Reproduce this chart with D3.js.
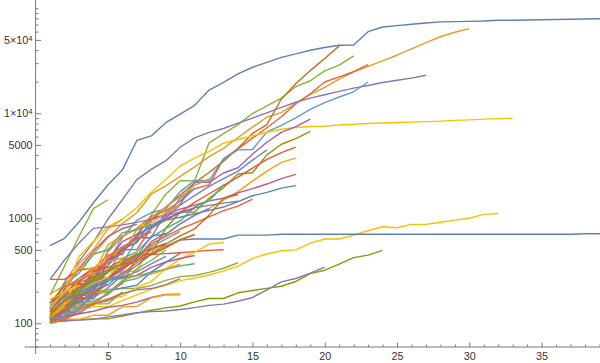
<!DOCTYPE html>
<html>
<head>
<meta charset="utf-8">
<script src="https://cdnjs.cloudflare.com/ajax/libs/d3/7.8.5/d3.min.js"></script>
<style>
  body { margin: 0; background: #fff; }
  svg { display: block; }
  text { font-family: "Liberation Sans", Arial, sans-serif; }
</style>
</head>
<body>
<script>
// confirmed cases, day 1 = first day with >= 100 cases
var china = [548, 643, 920, 1406, 2075, 2877, 5509, 6087, 8141, 9802, 11891, 16630, 19716, 23707, 27440, 30587, 34110, 36814, 39829, 42354, 44386, 44759, 59895, 66358, 68413, 70513, 72434, 74211, 74619, 75077, 75550, 77001, 77022, 77241, 77754, 78166, 78600, 78928, 79356, 79932];
var italy = [155, 229, 322, 453, 655, 888, 1128, 1694, 2036, 2502, 3089, 3858, 4636, 5883, 7375, 9172, 10149, 12462, 15113, 17660, 21157, 24747, 27980, 31506, 35713, 41035, 47021, 53578, 59138, 63927];
var spain = [120, 165, 222, 259, 400, 500, 673, 1073, 1695, 2277, 2277, 5232, 6391, 7798, 9942, 11748, 13910, 17963, 20410, 25374, 28768, 35136];
var germany = [130, 159, 196, 262, 482, 670, 799, 1040, 1176, 1457, 1908, 2078, 3675, 4585, 5795, 7272, 9257, 12327, 15320, 19848, 22213, 24873, 29056];
var iran = [139, 245, 388, 593, 978, 1501, 2336, 2922, 3513, 4747, 5823, 6566, 7161, 8042, 9000, 10075, 11364, 12729, 13938, 14991, 16169, 17361, 18407, 19644, 20610, 21638, 23049];
var us = [118, 149, 217, 262, 402, 518, 583, 959, 1281, 1663, 2179, 2727, 3499, 4632, 6421, 7786, 13680, 19101, 25493, 33276, 43847];
var france = [130, 191, 204, 288, 380, 656, 957, 1134, 1217, 1792, 2290, 2290, 3672, 4480, 4513, 6650, 7652, 9043, 10871, 12612, 14282, 16018, 19856];
var korea = [104, 204, 433, 602, 833, 977, 1261, 1766, 2337, 3150, 3736, 4335, 5186, 5621, 6088, 6593, 7041, 7314, 7478, 7513, 7755, 7869, 7979, 8086, 8162, 8236, 8320, 8413, 8565, 8652, 8799, 8897, 8961];
var switzerland = [114, 214, 268, 337, 374, 491, 652, 652, 1139, 1359, 2200, 2200, 2700, 3028, 4075, 5294, 6575, 7474, 8795];
var uk = [116, 164, 207, 274, 322, 384, 459, 459, 802, 1144, 1145, 1551, 1960, 2642, 2716, 4014, 5067, 5741, 6726];
var netherlands = [128, 188, 265, 321, 382, 503, 503, 806, 962, 1138, 1416, 1711, 2058, 2467, 3003, 3640, 4217, 4764];
var austria = [104, 131, 182, 246, 302, 504, 655, 860, 1018, 1332, 1646, 2013, 2388, 2814, 3582, 4474];
var belgium = [109, 169, 200, 239, 267, 314, 314, 559, 689, 886, 1058, 1243, 1486, 1795, 2257, 2815, 3401, 3743];
var norway = [108, 147, 176, 205, 400, 598, 702, 996, 1090, 1221, 1333, 1463, 1550, 1746, 1914, 2118, 2385, 2621];
var canada = [108, 117, 193, 198, 252, 415, 478, 657, 800, 943, 1277, 1469, 2088];
var sweden = [101, 161, 203, 248, 355, 500, 599, 814, 961, 1022, 1103, 1190, 1279, 1439, 1639, 1763, 1934, 2046];
var portugal = [112, 169, 245, 331, 448, 448, 785, 1020, 1280, 1600, 2060, 2362];
var turkey = [185, 350, 670, 1236, 1500];
var malaysia = [117, 129, 149, 149, 197, 238, 428, 566, 673, 790, 900, 1030, 1183, 1306, 1518];
var denmark = [262, 400, 580, 801, 827, 864, 914, 977, 1057, 1151, 1255, 1326, 1395, 1450];
var australia = [107, 128, 128, 200, 250, 297, 377, 452, 568, 681, 791, 1071, 1549, 1682];
var brazil = [151, 151, 162, 200, 321, 372, 621, 793, 1021, 1546, 1924];
var japan = [105, 105, 132, 144, 144, 164, 186, 210, 230, 255, 270, 288, 315, 350, 415, 457, 490, 500, 580, 635, 635, 693, 760, 830, 813, 875, 875, 915, 960, 1000, 1090, 1110];
var czechia = [141, 189, 253, 298, 396, 464, 694, 833, 995, 1120, 1236];
var singapore = [102, 106, 108, 110, 110, 117, 125, 133, 140, 146, 160, 172, 172, 195, 205, 215, 225, 250, 297, 320, 365, 422, 445, 495];
var qatar = [262, 262, 320, 337, 337, 401, 439, 452, 460, 470, 481, 494, 501];
var israel = [131, 143, 193, 251, 255, 337, 433, 677, 705, 883, 1071, 1238];
var ireland = [129, 169, 223, 292, 557, 683, 785, 906, 1125, 1329];
var luxembourg = [140, 203, 335, 484, 670, 798, 875];
var pakistan = [136, 236, 299, 454, 501, 730, 776, 875];
var cruiseShip = [135, 135, 175, 175, 218, 285, 355, 454, 542, 621, 634, 634, 634, 691, 691, 691, 705, 705, 705, 705, 705, 705, 705, 705, 705, 705, 705, 705, 705, 705, 705, 705, 705, 705, 705, 705, 705, 712, 712, 712];
var greece = [190, 228, 331, 331, 387, 418, 418, 495, 530, 624, 695];
var bahrain = [110, 195, 195, 195, 210, 214, 214, 228, 256, 278, 285, 305, 334, 377];
var chile = [156, 201, 238, 238, 434, 537, 632, 746];
var hongKong = [105, 105, 107, 109, 115, 120, 126, 129, 131, 135, 141, 148, 152, 162, 176, 208, 248, 267, 300, 343];
var finland = [155, 225, 244, 277, 321, 336, 400, 450, 523, 626, 700];
var poland = [103, 119, 177, 238, 251, 355, 425, 536, 634, 749];
var iceland = [103, 134, 156, 156, 171, 180, 220, 250, 330, 409, 473, 568, 588];
var thailand = [114, 147, 177, 212, 272, 322, 411, 599, 721];
var indonesia = [117, 134, 172, 227, 311, 369, 450, 514, 579];
var saudiArabia = [103, 118, 171, 171, 274, 344, 392, 511, 562];
var romania = [123, 131, 158, 184, 260, 277, 308, 367, 433];
var ecuador = [168, 199, 367, 506, 789, 981];
var slovenia = [141, 181, 219, 253, 275, 275, 286, 341, 383, 414, 442];
var estonia = [115, 171, 205, 225, 258, 267, 283, 306, 326, 352, 369];
var philippines = [111, 140, 142, 187, 202, 217, 230, 307, 380, 462];
var egypt = [110, 110, 150, 196, 196, 256, 285, 294, 327, 366];
var india = [113, 119, 142, 156, 194, 244, 330, 396, 499];
var russia = [114, 147, 199, 253, 306, 367, 438];
var iraq = [110, 116, 124, 154, 164, 192, 208, 214, 233, 266];
var peru = [117, 145, 234, 234, 318, 363, 395];
var lebanon = [120, 133, 157, 163, 187, 248, 267, 304];
var southAfrica = [116, 150, 202, 240, 274, 402];
var kuwait = [104, 112, 123, 130, 142, 148, 159, 176, 188, 189];
var mexico = [118, 164, 203, 251, 316, 367];
var panama = [109, 137, 200, 313, 345];
var colombia = [102, 128, 196, 231, 231, 306];
var sanMarino = [101, 109, 109, 119, 119, 144, 144, 175, 187, 187];
var armenia = [115, 136, 160, 194, 235];
var croatia = [105, 128, 206, 254, 315];
var serbia = [103, 135, 171, 222, 249];
var argentina = [128, 158, 266, 301];
var uae = [113, 140, 140, 153, 153, 198];
var taiwan = [100, 108, 135, 153, 169, 195];
var slovakia = [137, 178, 185, 186];
var bulgaria = [127, 163, 187, 201];
var latvia = [111, 124, 139, 180];
var algeria = [139, 201, 230];
var uruguay = [110, 135, 162];
var hungary = [103, 131, 167];
var jordan = [112, 127];
var costaRica = [113, 117, 134];
var morocco = [115, 143];

// drawing order (also decides the colour, palette cycles)
var series = [china, italy, spain, germany, iran, us, france, korea, switzerland, uk,
  netherlands, austria, belgium, norway, canada, sweden, portugal, turkey, malaysia, denmark,
  australia, brazil, japan, czechia, singapore, qatar, israel, ireland, luxembourg, pakistan,
  cruiseShip, greece, bahrain, chile, hongKong, finland, poland, iceland, thailand, indonesia,
  saudiArabia, romania, ecuador, slovenia, estonia, philippines, egypt, india, russia, iraq,
  peru, lebanon, southAfrica, kuwait, mexico, panama, colombia, sanMarino, armenia, croatia,
  serbia, argentina, uae, taiwan, slovakia, bulgaria, latvia, algeria, uruguay, hungary,
  jordan, costaRica, morocco];

var xTicks = [5, 10, 15, 20, 25, 30, 35];
var xMinorTicks = [1, 2, 3, 4, 6, 7, 8, 9, 11, 12, 13, 14, 16, 17, 18, 19, 21, 22, 23, 24, 26, 27, 28, 29, 31, 32, 33, 34, 36, 37, 38, 39];
var yTicks = [100, 500, 1000, 5000, 10000, 50000];
var yTickLabels = ["100", "500", "1000", "5000", "1×10^4", "5×10^4"];
var yMinorTicks = [60, 70, 80, 90, 200, 300, 400, 600, 700, 800, 900, 2000, 3000, 4000, 6000, 7000, 8000, 9000,
  20000, 30000, 40000, 60000, 70000, 80000, 90000, 100000];

//mathematica default colours
var palette = ["#5E81B5", "#E19C24", "#8FB032", "#EB6235", "#8778B3", "#C56E1A", "#5D9EC7", "#FFBF00",
  "#A5609D", "#929600", "#E95536", "#6685D9", "#F89F13", "#BC5B80", "#47B66D"];

var width = 600, height = 363;

var x = d3.scaleLinear().domain([0, 39.04]).range([35.6, 600]);
var y = d3.scaleLog().domain([59.4, 119900]).range([347, 0]);

var svg = d3.select("body").append("svg")
  .attr("width", width)
  .attr("height", height);

var line = d3.line()
  .x(function(d, i) { return x(i + 1); })
  .y(function(d) { return y(d); });

svg.append("g")
  .selectAll("path")
  .data(series)
  .enter()
  .append("path")
  .attr("d", line)
  .attr("fill", "none")
  .attr("stroke", function(d, i) { return palette[i % palette.length]; })
  .attr("stroke-width", 1.4)
  .attr("stroke-linejoin", "round");

var axisColor = "#7a7a7a";
var x0 = x(0), yBottom = y.range()[0];

// axes lines, mathematica style with a little overhang
svg.append("line")
  .attr("x1", x0 - 11).attr("x2", width)
  .attr("y1", yBottom).attr("y2", yBottom)
  .attr("stroke", axisColor);
svg.append("line")
  .attr("x1", x0).attr("x2", x0)
  .attr("y1", 0).attr("y2", yBottom + 7)
  .attr("stroke", axisColor);

function styleAxis(g) {
  g.select(".domain").remove();
  g.selectAll(".tick line").attr("stroke", axisColor);
  g.selectAll(".tick text").attr("fill", "#333").attr("font-size", "10.8px")
    .attr("font-family", "'Liberation Sans', Arial, sans-serif");
}

// x ticks point up into the plot
svg.append("g")
  .attr("transform", "translate(0," + yBottom + ")")
  .call(d3.axisBottom(x).tickValues(xTicks).tickSizeInner(-4.5).tickSizeOuter(0).tickPadding(5).tickFormat(d3.format("d")))
  .call(styleAxis);
svg.append("g")
  .attr("transform", "translate(0," + yBottom + ")")
  .call(d3.axisBottom(x).tickValues(xMinorTicks).tickSizeInner(-2.5).tickSizeOuter(0).tickFormat(""))
  .call(styleAxis);

var yAxisG = svg.append("g")
  .attr("transform", "translate(" + x0 + ",0)")
  .call(d3.axisLeft(y).tickValues(yTicks).tickSizeInner(-5.5).tickSizeOuter(0).tickPadding(3).tickFormat(""))
  .call(styleAxis);
svg.append("g")
  .attr("transform", "translate(" + x0 + ",0)")
  .call(d3.axisLeft(y).tickValues(yMinorTicks).tickSizeInner(-3).tickSizeOuter(0).tickFormat(""))
  .call(styleAxis);

// y labels, with superscript for the powers of ten
yAxisG.selectAll(".tick").each(function(d, i) {
  var parts = yTickLabels[i].split("^");
  var t = d3.select(this).select("text").text(null)
    .attr("x", -3).attr("dy", "0.34em").attr("text-anchor", "end");
  t.append("tspan").text(parts[0]);
  if (parts.length > 1) {
    t.append("tspan").attr("dy", "-0.42em").attr("font-size", "0.72em").text(parts[1]);
  }
});
</script>
</body>
</html>
